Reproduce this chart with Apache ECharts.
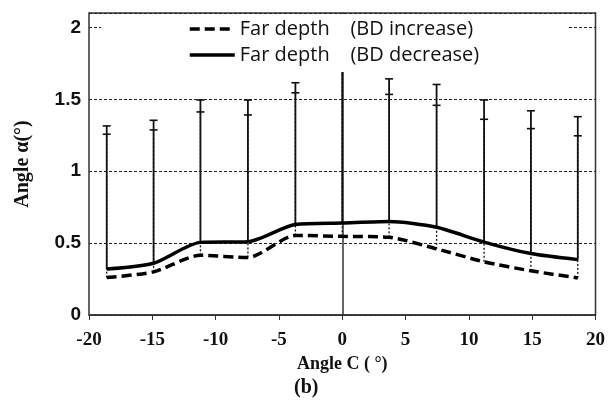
<!DOCTYPE html>
<html>
<head>
<meta charset="utf-8">
<script src="https://cdn.jsdelivr.net/npm/echarts@6/dist/echarts.min.js"></script>
<style>html,body{margin:0;padding:0;background:#fff}#c{width:608px;height:408px}</style>
</head>
<body>
<div id="c"></div>
<script>
// Data
const angleC = [-18.6, -14.9, -11.2, -7.45, -3.7, 0, 3.7, 7.45, 11.2, 14.9, 18.6];
const bdIncrease = [0.26, 0.30, 0.415, 0.40, 0.553, 0.547, 0.54, 0.46, 0.37, 0.307, 0.258];
const bdDecrease = [0.32, 0.36, 0.505, 0.51, 0.63, 0.64, 0.65, 0.61, 0.507, 0.427, 0.385];
const bdIncreaseTop = [1.257, 1.287, 1.412, 1.391, 1.545, 1.72, 1.534, 1.458, 1.361, 1.296, 1.246];
const bdDecreaseTop = [1.315, 1.354, 1.495, 1.495, 1.615, 1.78, 1.642, 1.603, 1.495, 1.42, 1.379];
const xTicks = [-20, -15, -10, -5, 0, 5, 10, 15, 20];
const yTicks = [0, 0.5, 1, 1.5, 2];
const nameInc = 'Far depth    (BD increase)';
const nameDec = 'Far depth    (BD decrease)';

const chart = echarts.init(document.getElementById('c'), null, {renderer: 'canvas'});

function errRender(dotted) {
  return function (params, api) {
    const x = api.value(0), v = api.value(1), t = api.value(2);
    const p0 = api.coord([x, v]), p1 = api.coord([x, t]);
    const hw = 4;
    return {
      type: 'group',
      children: [
        {type: 'line', shape: {x1: p0[0], y1: p0[1], x2: p1[0], y2: p1[1]},
         style: {stroke: '#111', lineWidth: dotted ? 1.3 : 1.8, lineDash: dotted ? [2, 2] : null}},
        {type: 'line', shape: {x1: p1[0] - hw, y1: p1[1], x2: p1[0] + hw, y2: p1[1]},
         style: {stroke: '#111', lineWidth: 1.6}}
      ]
    };
  };
}

const option = {
  animation: false,
  backgroundColor: '#fff',
  grid: {left: 89, right: 12, top: 13, bottom: 93, show: true, borderColor: '#333', borderWidth: 1.5},
  legend: {
    data: [nameInc, nameDec],
    orient: 'vertical',
    left: 101, top: 14,
    padding: [5, 88, 7, 87],
    itemGap: 6,
    itemWidth: 45, itemHeight: 14,
    backgroundColor: '#fff',
    itemStyle: {opacity: 0},
    lineStyle: {width: 3.5},
    textStyle: {fontFamily: 'Open Sans', fontSize: 20, color: '#111'}
  },
  xAxis: {
    type: 'value', min: xTicks[0], max: xTicks[xTicks.length - 1], interval: 5,
    name: 'Angle C ( °)', nameLocation: 'middle', nameGap: 37,
    nameTextStyle: {fontFamily: 'Liberation Serif', fontWeight: 'bold', fontSize: 18, color: '#111'},
    axisLine: {lineStyle: {color: '#333', width: 1.5}},
    axisTick: {show: true, length: 5, lineStyle: {color: '#333'}},
    axisLabel: {fontFamily: 'Liberation Serif', fontWeight: 'bold', fontSize: 19, color: '#111', margin: 16},
    splitLine: {show: false}
  },
  yAxis: {
    type: 'value', min: yTicks[0], max: 2.1, interval: 0.5,
    name: 'Angle α(°)', nameLocation: 'middle', nameGap: 56, nameRotate: 90,
    nameTextStyle: {fontFamily: 'Liberation Serif', fontWeight: 'bold', fontSize: 20, color: '#111'},
    axisLine: {show: true, lineStyle: {color: '#333', width: 1.5}},
    axisTick: {show: false},
    axisLabel: {fontFamily: 'Liberation Sans', fontWeight: 'bold', fontSize: 19, color: '#111', margin: 8,
      formatter: v => (yTicks.indexOf(v) >= 0 ? String(v) : '')},
    splitLine: {show: true, lineStyle: {color: '#222', width: 1, type: [3, 2]}}
  },
  series: [
    {
      type: 'custom', name: 'errInc', renderItem: errRender(true), z: 1,
      encode: {x: 0, y: [1, 2]},
      data: angleC.map((x, i) => [x, bdIncrease[i], bdIncreaseTop[i]])
    },
    {
      type: 'custom', name: 'errDec', renderItem: errRender(false), z: 1,
      encode: {x: 0, y: [1, 2]},
      data: angleC.map((x, i) => [x, bdDecrease[i], bdDecreaseTop[i]])
    },
    {
      type: 'line', name: nameInc, symbol: 'none', smooth: 0.25, z: 3,
      lineStyle: {color: '#000', width: 3.5, type: [10, 5]},
      itemStyle: {color: '#000'},
      data: angleC.map((x, i) => [x, bdIncrease[i]])
    },
    {
      type: 'line', name: nameDec, symbol: 'none', smooth: 0.25, z: 3,
      lineStyle: {color: '#000', width: 3.5},
      itemStyle: {color: '#000'},
      data: angleC.map((x, i) => [x, bdDecrease[i]])
    }
  ],
  graphic: [{
    type: 'text', left: 294, top: 378,
    style: {text: '(b)', fontFamily: 'Liberation Serif', fontWeight: 'bold', fontSize: 20, fill: '#111'}
  }]
};
chart.setOption(option);
</script>
</body>
</html>
